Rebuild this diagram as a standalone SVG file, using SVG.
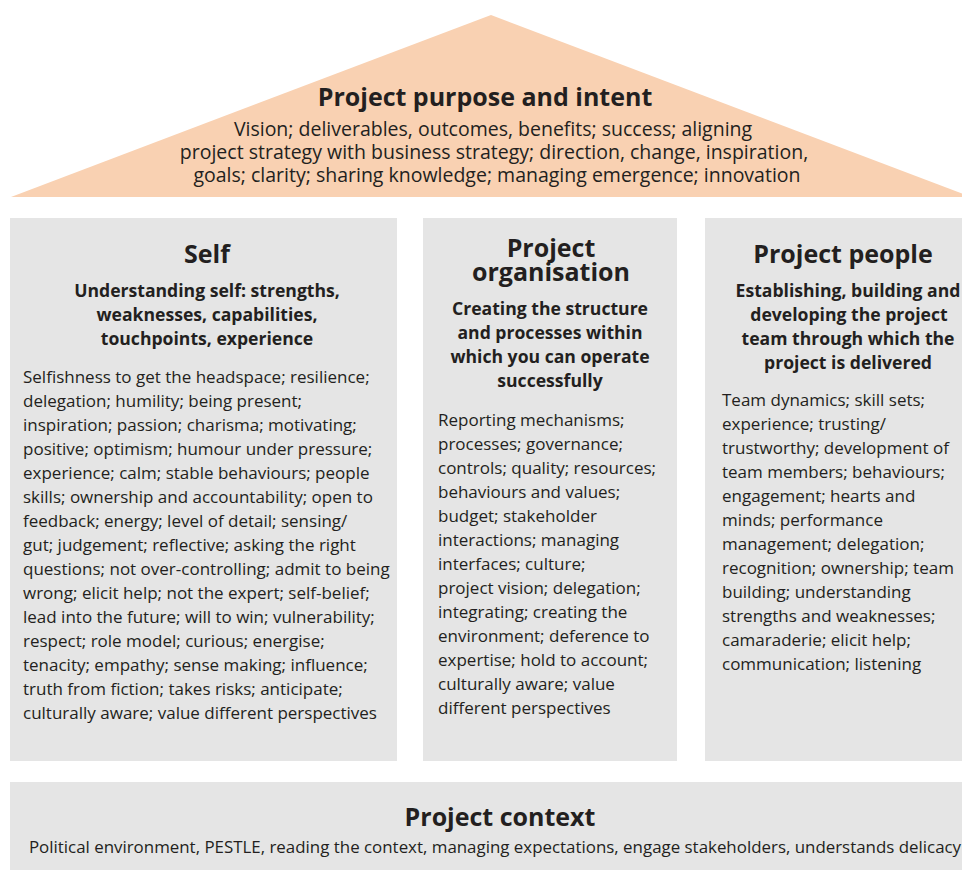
<svg xmlns="http://www.w3.org/2000/svg" width="962" height="870" viewBox="0 0 962 870">
<style>
  text { font-family: "Open Sans", "Noto Sans", "DejaVu Sans", sans-serif; fill: #231f20; }
  .box { fill: #e5e5e5; }
  .roof { fill: #f9d1b2; }
  .h1 { font-size: 25px; font-weight: 700; text-anchor: middle; }
  .h2 { font-size: 17.6px; font-weight: 700; text-anchor: middle; }
  .body { font-size: 17px; }
  .rbody { font-size: 19.5px; text-anchor: middle; }
  .cbody { font-size: 16.9px; text-anchor: middle; }
</style>
<rect width="962" height="870" fill="#ffffff"/>

<g id="roof">
  <polygon class="roof" points="491,15 11,197 971,197"/>
  <text class="h1" x="485" y="106">Project purpose and intent</text>
  <text class="rbody" x="493" y="136">Vision; deliverables, outcomes, benefits; success; aligning</text>
  <text class="rbody" x="494" y="159">project strategy with business strategy; direction, change, inspiration,</text>
  <text class="rbody" x="497" y="182">goals; clarity; sharing knowledge; managing emergence; innovation</text>
</g>

<g id="self">
  <rect class="box" x="10" y="218" width="387" height="543"/>
  <text class="h1" x="207" y="263">Self</text>
  <text class="h2" x="207" y="297">Understanding self: strengths,</text>
  <text class="h2" x="207" y="321">weaknesses, capabilities,</text>
  <text class="h2" x="207" y="345">touchpoints, experience</text>
  <text class="body" x="23" y="383">Selfishness to get the headspace; resilience;</text>
  <text class="body" x="23" y="407">delegation; humility; being present;</text>
  <text class="body" x="23" y="431">inspiration; passion; charisma; motivating;</text>
  <text class="body" x="23" y="455">positive; optimism; humour under pressure;</text>
  <text class="body" x="23" y="479">experience; calm; stable behaviours; people</text>
  <text class="body" x="23" y="503">skills; ownership and accountability; open to</text>
  <text class="body" x="23" y="527">feedback; energy; level of detail; sensing/</text>
  <text class="body" x="23" y="551">gut; judgement; reflective; asking the right</text>
  <text class="body" x="23" y="575">questions; not over-controlling; admit to being</text>
  <text class="body" x="23" y="599">wrong; elicit help; not the expert; self-belief;</text>
  <text class="body" x="23" y="623">lead into the future; will to win; vulnerability;</text>
  <text class="body" x="23" y="647">respect; role model; curious; energise;</text>
  <text class="body" x="23" y="671">tenacity; empathy; sense making; influence;</text>
  <text class="body" x="23" y="695">truth from fiction; takes risks; anticipate;</text>
  <text class="body" x="23" y="719">culturally aware; value different perspectives</text>
</g>

<g id="organisation">
  <rect class="box" x="423" y="218" width="254" height="543"/>
  <text class="h1"><tspan x="551" y="257">Project</tspan><tspan x="551" y="281">organisation</tspan></text>
  <text class="h2" x="550" y="315">Creating the structure</text>
  <text class="h2" x="550" y="339">and processes within</text>
  <text class="h2" x="550" y="363">which you can operate</text>
  <text class="h2" x="550" y="387">successfully</text>
  <text class="body" x="438" y="426">Reporting mechanisms;</text>
  <text class="body" x="438" y="450">processes; governance;</text>
  <text class="body" x="438" y="474">controls; quality; resources;</text>
  <text class="body" x="438" y="498">behaviours and values;</text>
  <text class="body" x="438" y="522">budget; stakeholder</text>
  <text class="body" x="438" y="546">interactions; managing</text>
  <text class="body" x="438" y="570">interfaces; culture;</text>
  <text class="body" x="438" y="594">project vision; delegation;</text>
  <text class="body" x="438" y="618">integrating; creating the</text>
  <text class="body" x="438" y="642">environment; deference to</text>
  <text class="body" x="438" y="666">expertise; hold to account;</text>
  <text class="body" x="438" y="690">culturally aware; value</text>
  <text class="body" x="438" y="714">different perspectives</text>
</g>

<g id="people">
  <rect class="box" x="705" y="218" width="267" height="543"/>
  <text class="h1" x="843" y="263">Project people</text>
  <text class="h2" x="848" y="297">Establishing, building and</text>
  <text class="h2" x="849" y="321">developing the project</text>
  <text class="h2" x="848" y="345">team through which the</text>
  <text class="h2" x="848" y="369">project is delivered</text>
  <text class="body" x="722" y="406">Team dynamics; skill sets;</text>
  <text class="body" x="722" y="430">experience; trusting/</text>
  <text class="body" x="722" y="454">trustworthy; development of</text>
  <text class="body" x="722" y="478">team members; behaviours;</text>
  <text class="body" x="722" y="502">engagement; hearts and</text>
  <text class="body" x="722" y="526">minds; performance</text>
  <text class="body" x="722" y="550">management; delegation;</text>
  <text class="body" x="722" y="574">recognition; ownership; team</text>
  <text class="body" x="722" y="598">building; understanding</text>
  <text class="body" x="722" y="622">strengths and weaknesses;</text>
  <text class="body" x="722" y="646">camaraderie; elicit help;</text>
  <text class="body" x="722" y="670">communication; listening</text>
</g>

<g id="context">
  <rect class="box" x="10" y="782" width="962" height="88"/>
  <text class="h1" x="500" y="826">Project context</text>
  <text class="cbody" x="495" y="853">Political environment, PESTLE, reading the context, managing expectations, engage stakeholders, understands delicacy</text>
</g>
</svg>
